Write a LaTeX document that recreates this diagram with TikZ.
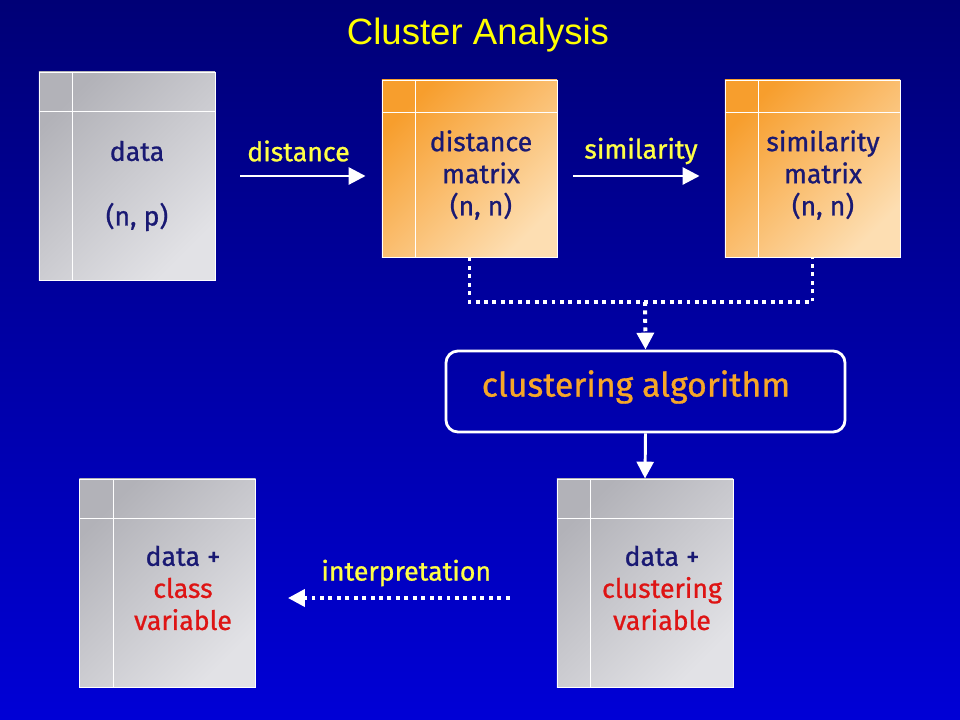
\documentclass[tikz,border=0pt]{standalone}
\usepackage{fontspec}
\setmainfont{Liberation Sans}
\newfontfamily\handfont{Fira Sans}[UprightFeatures={FakeBold=0.9}]
\usepackage{xcolor}
\usepackage{tikz}
\usetikzlibrary{arrows.meta}
\definecolor{Bgtop}{RGB}{0,0,118}
\definecolor{Bgbot}{RGB}{0,0,214}
\definecolor{Ttl}{RGB}{255,255,0}
\definecolor{Lbl}{RGB}{255,255,70}
\definecolor{Ink}{RGB}{25,25,115}
\definecolor{Rd}{RGB}{222,20,20}
\definecolor{Org}{RGB}{246,166,40}
\definecolor{Or1}{RGB}{247,158,45}
\definecolor{Or2}{RGB}{253,222,178}
\definecolor{Gr1}{RGB}{178,178,184}
\definecolor{Gr2}{RGB}{226,226,230}

\tikzset{
  card/.style={inner sep=0pt,draw=white,line width=0.6pt,shading angle=45},
  graycard/.style={card,top color=Gr1,bottom color=Gr2,shading angle=45,
    minimum width=4.4cm,minimum height=5.2cm},
  orangecard/.style={card,top color=Or1,bottom color=Or2,shading angle=45,
    minimum width=4.375cm,minimum height=4.425cm},
  hand/.style={font=\handfont\fontsize{19}{22.8}\selectfont,align=center,Ink},
  lbl/.style={font=\handfont\fontsize{19}{22.8}\selectfont,Lbl},
  flow/.style={white,line width=2.1pt,-{Triangle[width=12pt,length=12pt]}},
  dots/.style={white,line width=2.8pt,dash pattern=on 2.8pt off 3.2pt}
}

\begin{document}
\begin{tikzpicture}[x=0.025cm,y=-0.025cm]
    \shade[top color=Bgtop,bottom color=Bgbot] (0,0) rectangle (960,720);
    \node[font=\fontsize{26}{30}\selectfont,Ttl] (title) at (478,35) {Cluster Analysis};

    % cards
    \node[graycard] (data) at (127,176) {};
    \node[orangecard] (dist) at (469.5,168.5) {};
    \node[orangecard] (sim) at (812.5,168.5) {};
    \node[graycard] (cls) at (167.5,583) {};
    \node[graycard] (clu) at (645,583) {};
    \foreach \b/\dy in {data/1,dist/0.825,sim/0.825,cls/1,clu/1}{
      \draw[white,line width=0.8pt] ([xshift=0.85cm]\b.north west)
        -- ([xshift=0.85cm]\b.south west);
      \draw[white,line width=0.8pt] ([yshift=-\dy cm]\b.north west)
        -- ([yshift=-\dy cm]\b.north east);
    }
    \node[hand] (datat) at (137,151) {data};
    \node[hand] (datan) at (137,217) {(n, p)};
    \node[hand] (distt) at (481,175) {distance\\matrix\\(n, n)};
    \node[hand] (simt) at (823,175) {similarity\\matrix\\(n, n)};
    \node[hand] (clst) at (183,588) {data +\\\color{Rd}class\\\color{Rd}variable};
    \node[hand] (clut) at (662,588) {data +\\\color{Rd}clustering\\\color{Rd}variable};

    \node[draw=white,line width=2pt,rounded corners=0.3cm,minimum width=9.975cm,
      minimum height=2.025cm] (algo) at (645.5,391.5) {};
    \node[font=\handfont\fontsize{24}{28}\selectfont,Org] (algot) at (636,387)
      {clustering algorithm};

    % connectors
    \draw[flow,shorten <=0.625cm,shorten >=0.4cm] (data.east) -- (data.east -| dist.west)
      node[midway,yshift=0.625cm,lbl] (lbl1) {distance};
    \draw[flow,shorten <=0.4cm,shorten >=0.625cm] (dist.east |- data.east) -- (sim.west |- data.east)
      node[midway,yshift=0.625cm,lbl] (lbl2) {similarity};
    \coordinate (join) at (645,302);
    \draw[dots] (dist.south) -- (dist.south |- join) -- (sim.south |- join) -- (sim.south);
    \draw[dots,-{Triangle[width=12pt,length=12pt]}] (join) -- (algo.north);
    \draw[flow] (algo.south) -- (clu.north);
    \draw[dots,-{Triangle[width=12pt,length=12pt]},shorten <=1.175cm,shorten >=0.8cm]
      ([yshift=-0.375cm]clu.west) -- ([yshift=-0.375cm]cls.east)
      node[midway,yshift=0.625cm,lbl] (lbl3) {interpretation};
\end{tikzpicture}
\end{document}
